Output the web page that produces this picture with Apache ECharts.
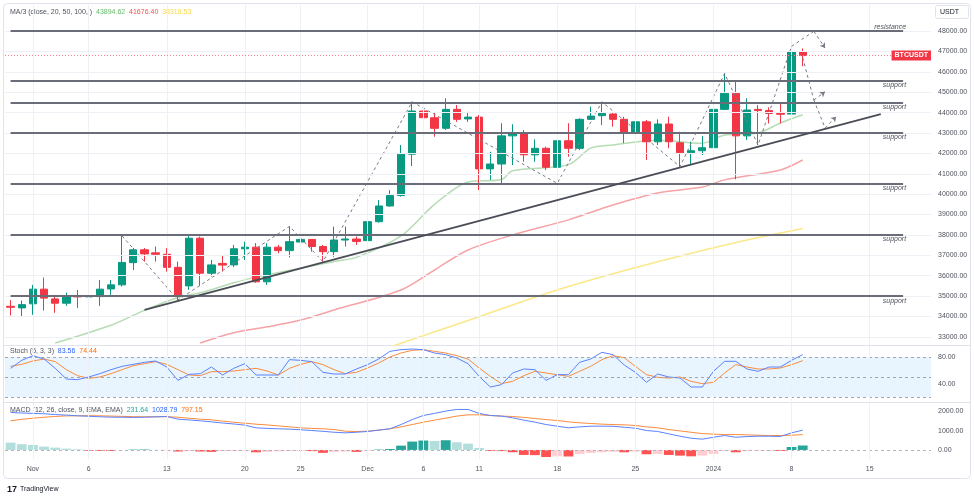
<!DOCTYPE html>
<html>
<head>
<meta charset="utf-8">
<script src="https://cdn.jsdelivr.net/npm/echarts@6/dist/echarts.min.js"></script>
<style>
  html, body { margin: 0; padding: 0; background: #fff; }
  #chart { width: 974px; height: 503px; }
</style>
</head>
<body>
<div id="chart"></div>
<script>
// days on the x axis: 2023-10-30 .. 2024-01-20 (daily candles + empty space on the right)
const firstDay = [2023, 9, 30]
const dayCount = 83
const categories = []
for (let i = 0; i < dayCount; i++) {
  const d = new Date(Date.UTC(firstDay[0], firstDay[1], firstDay[2] + i))
  categories.push(d.toISOString().slice(0, 10))
}

// x axis labels: [day index, text]
const xTicks = [
  [2, 'Nov'], [7, '6'], [14, '13'], [21, '20'], [26, '25'], [32, 'Dec'], [37, '6'],
  [42, '11'], [49, '18'], [56, '25'], [63, '2024'], [70, '8'], [77, '15']
]

// BTCUSDT daily candles [open, close, low, high]
const ohlc = [
  [34500, 34450, 34050, 34800], [34420, 34580, 33980, 34780], [34620, 35340, 34080, 35550],
  [35340, 34900, 34290, 35910], [34860, 34650, 34180, 35060], [34650, 34975, 34520, 35170],
  [35010, 34960, 34410, 35300], [34960, 35000, 34800, 35150], [34975, 35340, 34520, 35790],
  [35350, 35550, 35060, 35790], [35550, 36650, 35470, 37950], [36640, 37270, 36280, 37360],
  [37270, 37070, 36690, 37360], [37120, 37050, 36690, 37430], [37050, 36410, 36200, 37350],
  [36410, 34975, 34730, 36690], [35500, 37840, 35310, 37950], [37840, 36120, 35500, 37920],
  [36120, 36530, 35960, 36770], [36600, 36520, 36200, 37020], [36530, 37320, 36420, 37510],
  [37320, 37400, 36770, 37670], [37400, 35700, 35650, 37600], [35700, 37400, 35550, 37590],
  [37400, 37230, 37100, 37510], [37230, 37670, 36900, 38420], [37650, 37780, 37590, 37840],
  [37780, 37430, 37180, 37790], [37430, 37180, 36690, 37510], [37180, 37750, 36930, 38410],
  [37750, 37800, 37430, 38410], [37800, 37680, 37510, 37920], [37720, 38650, 37670, 38930],
  [38650, 39420, 38600, 39710], [39420, 39930, 39390, 40200], [39930, 41960, 39880, 42410],
  [41960, 44080, 41380, 44530], [44080, 43750, 43310, 44220], [43750, 43230, 42820, 43980],
  [43230, 44160, 43150, 44700], [44160, 43670, 43550, 44370], [43690, 43780, 43550, 44040],
  [43780, 41240, 40200, 43880], [41240, 41480, 40700, 42080], [41480, 42860, 40530, 43480],
  [42860, 43020, 41430, 43430], [43020, 41930, 41590, 43150], [41930, 42250, 41590, 42690],
  [42250, 41320, 41180, 42330], [41320, 42620, 40500, 42740], [42620, 42250, 41840, 43480],
  [42250, 43670, 42170, 43720], [43670, 43830, 43640, 44290], [43850, 43960, 43390, 44530],
  [43930, 43670, 43310, 44000], [43670, 42990, 42500, 43800], [42990, 43550, 42900, 43640],
  [43550, 42570, 41680, 43640], [42570, 43440, 42410, 43670], [43440, 42570, 42250, 43800],
  [42520, 42030, 41350, 43060], [42030, 42130, 41430, 42570], [42130, 42280, 41920, 42850],
  [42280, 44160, 42250, 44210], [44160, 44950, 44130, 45930], [44950, 42860, 40730, 45520],
  [42860, 44130, 42660, 44700], [44160, 44100, 42410, 44370], [44100, 43960, 43470, 44260],
  [43960, 43920, 43470, 44450], [43930, 46990, 43180, 47250], [46990, 46800, 46280, 47150]
]

// moving averages: [day index] / [value]
const ma20Idx = [4, 9, 12, 15, 17, 20, 22, 29, 31, 35, 38, 41, 44, 45, 50, 52, 54, 58, 62, 64, 67, 69, 71]
const ma20Val = [32700, 33570, 34300, 34930, 35160, 35650, 35930, 36700, 36900, 37950, 39500, 40600,
  40720, 41150, 41450, 42260, 42410, 42650, 42500, 42900, 43000, 43490, 43894.62]
const ma50Idx = [17, 20, 23, 26, 29, 35, 38, 41, 45, 50, 54, 58, 62, 64, 69, 71]
const ma50Val = [32700, 33200, 33490, 33830, 34320, 35300, 36280, 37260, 38000, 38740, 39470,
  40060, 40350, 40700, 41190, 41676.40]
const ma100Idx = [34, 41, 49, 58, 66, 71]
const ma100Val = [32500, 33800, 35300, 36680, 37750, 38318.53]

// drawings: zigzag swing points, projections, trend line, horizontal levels
const zzIdx = [10, 15, 25, 28, 36, 49, 53, 60, 64, 67, 70]
const zzVal = [37950, 34810, 38420, 36690, 44530, 40530, 44530, 41350, 45920, 42410, 47250]
const projA = [[70, 47250], [72, 47990], [73, 47170]]
const projB = [[71, 46700], [72, 44620], [73, 45020]]
const projC = [[72, 44620], [73, 43250], [74, 43800]]
const trendPts = [[12, 34320], [78, 43930]]
const levelPrices = [48000, 45550, 44500, 43020, 40500, 38000, 35000]
const levelNames = ['resistance', 'support', 'support', 'support', 'support', 'support', 'support']
const levelEndIdx = 80
const priceTicks = [33000, 34000, 35000, 36000, 37000, 38000, 39000, 40000, 41000, 42000,
  43000, 44000, 45000, 46000, 47000, 48000]

// Stoch (5, 3, 3)
const stochK = [63, 75, 82, 77, 63, 47, 46, 50, 55, 61, 66, 69, 72, 74, 65, 45, 54, 55, 65, 53,
  63, 70, 53, 53, 53, 76, 75, 73, 57, 54.5, 54.5, 62, 68.5, 77, 88.5, 91, 92, 91, 86, 83.5, 78.5,
  70, 51, 35, 38.5, 56, 62, 61, 45, 53.5, 53.5, 72, 77, 87, 83.5, 68, 57, 42, 54.5, 50, 48.5, 35,
  35, 58.5, 73.5, 73.5, 62, 58.5, 65, 65, 75, 83.56]
const stochD = [66, 69, 74, 77, 73, 61, 52, 48, 50, 55, 61, 67, 70, 73, 69, 61, 53, 52, 58, 58,
  59, 61, 63, 59, 53, 63, 69, 73, 68.5, 61, 55, 57, 63.5, 71, 80, 86, 90, 91, 88.5, 86, 82, 77,
  63.5, 51, 40, 43.5, 52, 58.5, 56, 53.5, 51, 58.5, 66, 76, 82, 79, 66, 53.5, 49.5, 48.5, 50,
  43.5, 40, 42, 56, 68.5, 65, 62, 62, 63.5, 68.5, 74.44]
const stochLevels = [80, 50, 20]

// MACD (12, 26, close, 9)
const macdLine = [1950, 1920, 1900, 1880, 1840, 1810, 1775, 1750, 1725, 1705, 1700, 1690, 1700,
  1720, 1740, 1600, 1560, 1515, 1460, 1400, 1350, 1290, 1150, 1120, 1100, 1080, 1050, 1010, 970,
  920, 890, 920, 960, 1030, 1100, 1320, 1580, 1790, 1900, 2020, 2105, 2105, 1900, 1790, 1760,
  1670, 1550, 1445, 1320, 1235, 1150, 1200, 1235, 1235, 1230, 1180, 1130, 1010, 960, 835, 715,
  610, 560, 660, 750, 660, 695, 715, 715, 700, 890, 1028.79]
const signalLine = [1515, 1590, 1650, 1700, 1740, 1770, 1775, 1780, 1775, 1760, 1745, 1730, 1725,
  1725, 1730, 1700, 1650, 1600, 1565, 1500, 1440, 1390, 1340, 1300, 1250, 1200, 1150, 1120, 1100,
  1060, 975, 960, 975, 1030, 1100, 1200, 1320, 1445, 1550, 1650, 1760, 1825, 1825, 1790, 1760,
  1740, 1690, 1635, 1580, 1530, 1460, 1410, 1375, 1340, 1320, 1305, 1270, 1200, 1150, 1060, 990,
  920, 850, 820, 800, 800, 785, 765, 750, 750, 765, 797.15]
const histogram = [380, 300, 260, 175, 120, 70, 35, -45, -50, -55, -10, 20, 25, 5, -10, -80, -60,
  -80, -100, -60, -50, -40, -120, -100, -70, -50, -40, -60, -150, -100, -80, -100, -40, 20, 50,
  225, 435, 490, 470, 505, 400, 330, 105, -50, -60, -120, -260, -270, -365, -330, -340, -210,
  -155, -120, -90, -120, -90, -225, -210, -260, -295, -330, -295, -210, -50, -120, -50, -35, -35,
  -50, 155, 231.64]

const FONT = 'Liberation Sans, Arial, sans-serif'
const TXT = '#50535e'
const GRIDC = '#eef0f5'

const pair = (idx, vals) => idx.map((d, k) => [categories[d], vals[k]])
const seg = (a, b, arrow) => [
  { coord: [categories[a[0]], a[1]] },
  { coord: [categories[b[0]], b[1]], symbol: arrow ? 'arrow' : 'none' }
]
const projSegs = p => [seg(p[0], p[1], false), seg(p[1], p[2], true)]
const vLines = xTicks.map(t => ({ xAxis: categories[t[0]] }))
const tickText = {}
xTicks.forEach(t => { tickText[categories[t[0]]] = t[1] })

const lastClose = ohlc[ohlc.length - 1][1]
const fmt2 = v => v.toFixed(2)
const isStep = (v, s) => Math.abs(v / s - Math.round(v / s)) < 1e-6

const chart = echarts.init(document.getElementById('chart'), null, { renderer: 'canvas' })

const xAxisBase = (gi, showLabel) => ({
  type: 'category',
  gridIndex: gi,
  data: categories,
  boundaryGap: true,
  axisLine: { show: false },
  axisTick: { show: false },
  splitLine: { show: false },
  axisLabel: {
    show: showLabel,
    interval: (index, value) => tickText[value] !== undefined,
    formatter: value => tickText[value] || '',
    color: TXT,
    fontSize: 7,
    fontFamily: FONT,
    margin: 7
  }
})

const yLabel = (step, keep) => ({
  color: TXT,
  fontSize: 7,
  fontFamily: FONT,
  margin: 7,
  formatter: v => (isStep(v, step) && keep(v) ? fmt2(v) : '')
})

const option = {
  animation: false,
  backgroundColor: '#ffffff',
  grid: [
    { left: 5, right: 43, top: 5, height: 340 },
    { left: 5, right: 43, top: 346, height: 55 },
    { left: 5, right: 43, top: 403, height: 56 }
  ],
  xAxis: [xAxisBase(0, false), xAxisBase(1, false), xAxisBase(2, true)],
  yAxis: [
    {
      type: 'value', gridIndex: 0, position: 'right', min: 32600, max: 49280, interval: 100,
      axisLine: { show: false }, axisTick: { show: false }, splitLine: { show: false },
      axisLabel: yLabel(1000, v => v >= 33000 && v <= 48000)
    },
    {
      type: 'value', gridIndex: 1, position: 'right', min: 14, max: 96.5, interval: 2,
      axisLine: { show: false }, axisTick: { show: false }, splitLine: { show: false },
      axisLabel: yLabel(40, v => v > 0)
    },
    {
      type: 'value', gridIndex: 2, position: 'right', min: -470, max: 2440, interval: 10,
      axisLine: { show: false }, axisTick: { show: false }, splitLine: { show: false },
      axisLabel: yLabel(1000, v => v >= 0)
    }
  ],
  series: [
    {
      name: 'MA100',
      type: 'line',
      xAxisIndex: 0, yAxisIndex: 0,
      data: pair(ma100Idx, ma100Val),
      smooth: 0.3,
      showSymbol: false,
      z: 1,
      lineStyle: { color: '#fbe889', width: 1.5 },
      markLine: {
        silent: true,
        symbol: ['none', 'none'],
        label: { show: false },
        lineStyle: { color: GRIDC, width: 1, type: 'solid' },
        data: priceTicks.map(p => ({ yAxis: p })).concat(vLines)
      }
    },
    {
      name: 'MA50',
      type: 'line',
      xAxisIndex: 0, yAxisIndex: 0,
      data: pair(ma50Idx, ma50Val),
      smooth: 0.3,
      showSymbol: false,
      z: 2,
      lineStyle: { color: '#f5a3a6', width: 1.5 }
    },
    {
      name: 'MA20',
      type: 'line',
      xAxisIndex: 0, yAxisIndex: 0,
      data: pair(ma20Idx, ma20Val),
      smooth: 0.3,
      showSymbol: false,
      z: 2,
      lineStyle: { color: '#b5dcb3', width: 1.5 },
      markLine: {
        silent: true,
        symbol: ['none', 'none'],
        lineStyle: { color: '#f7838c', width: 1, type: [1, 2] },
        label: {
          show: true,
          formatter: 'BTCUSDT',
          position: 'insideEnd',
          distance: 0,
          backgroundColor: '#f23645',
          color: '#ffffff',
          fontSize: 7,
          fontWeight: 'bold',
          fontFamily: FONT,
          padding: [2, 3, 1, 3]
        },
        data: [{ yAxis: lastClose }]
      }
    },
    {
      name: 'BTCUSDT',
      type: 'candlestick',
      xAxisIndex: 0, yAxisIndex: 0,
      data: ohlc,
      barWidth: '70%',
      z: 3,
      itemStyle: {
        color: '#089981', color0: '#f23645',
        borderColor: '#089981', borderColor0: '#f23645', borderWidth: 1
      },
      markLine: {
        silent: true,
        symbol: ['none', 'none'],
        data: levelPrices.map((p, k) => {
          const lab = {
            show: true,
            formatter: levelNames[k],
            position: k === 0 ? 'insideEndTop' : 'insideEndBottom',
            distance: [-3, 1],
            fontSize: 7,
            fontStyle: 'italic',
            fontFamily: FONT,
            color: TXT
          }
          const ls = { color: '#6a6d78', width: 2, type: 'solid' }
          return [
            { coord: [categories[0], p], lineStyle: ls, label: lab },
            { coord: [categories[levelEndIdx], p], lineStyle: ls, label: lab }
          ]
        }).concat([
          [
            { coord: [categories[trendPts[0][0]], trendPts[0][1]], lineStyle: { color: '#4a4d57', width: 1.8, type: 'solid' }, label: { show: false } },
            { coord: [categories[trendPts[1][0]], trendPts[1][1]], lineStyle: { color: '#4a4d57', width: 1.8, type: 'solid' }, label: { show: false } }
          ]
        ])
      }
    },
    {
      name: 'zigzag',
      type: 'line',
      xAxisIndex: 0, yAxisIndex: 0,
      data: pair(zzIdx, zzVal),
      showSymbol: false,
      z: 4,
      lineStyle: { color: '#787b86', width: 1, type: [3, 3] },
      markLine: {
        silent: true,
        symbol: ['none', 'none'],
        symbolSize: 5,
        label: { show: false },
        lineStyle: { color: '#787b86', width: 1, type: [3, 3] },
        data: projSegs(projA).concat(projSegs(projB), projSegs(projC))
      }
    },
    {
      name: '%K',
      type: 'line',
      xAxisIndex: 1, yAxisIndex: 1,
      data: stochK,
      showSymbol: false,
      z: 3,
      lineStyle: { color: '#5b82ff', width: 1 },
      markArea: {
        silent: true,
        itemStyle: { color: 'rgba(33,150,243,0.1)' },
        data: [[{ yAxis: stochLevels[2] }, { yAxis: stochLevels[0] }]]
      },
      markLine: {
        silent: true,
        symbol: ['none', 'none'],
        label: { show: false },
        lineStyle: { color: '#a3a6af', width: 1, type: [3, 3] },
        data: stochLevels.map(v => ({ yAxis: v }))
      }
    },
    {
      name: '%D',
      type: 'line',
      xAxisIndex: 1, yAxisIndex: 1,
      data: stochD,
      showSymbol: false,
      z: 2,
      lineStyle: { color: '#fb8c3c', width: 1 },
      markLine: {
        silent: true,
        symbol: ['none', 'none'],
        label: { show: false },
        lineStyle: { color: GRIDC, width: 1, type: 'solid' },
        data: vLines
      }
    },
    {
      name: 'Histogram',
      type: 'bar',
      xAxisIndex: 2, yAxisIndex: 2,
      data: histogram,
      barWidth: '88%',
      itemStyle: {
        color: p => {
          const v = histogram[p.dataIndex]
          const prev = p.dataIndex > 0 ? histogram[p.dataIndex - 1] : v
          if (v >= 0) return v > prev ? '#26a69a' : '#b2dfdb'
          return v < prev ? '#ff5252' : '#ffcdd2'
        }
      },
      markLine: {
        silent: true,
        symbol: ['none', 'none'],
        label: { show: false },
        lineStyle: { color: '#b2b5be', width: 1, type: [3, 3] },
        data: [{ yAxis: 0 }]
      }
    },
    {
      name: 'MACD',
      type: 'line',
      xAxisIndex: 2, yAxisIndex: 2,
      data: macdLine,
      showSymbol: false,
      z: 3,
      lineStyle: { color: '#5b82ff', width: 1 }
    },
    {
      name: 'Signal',
      type: 'line',
      xAxisIndex: 2, yAxisIndex: 2,
      data: signalLine,
      showSymbol: false,
      z: 2,
      lineStyle: { color: '#fb8c3c', width: 1 },
      markLine: {
        silent: true,
        symbol: ['none', 'none'],
        label: { show: false },
        lineStyle: { color: GRIDC, width: 1, type: 'solid' },
        data: vLines
      }
    }
  ],
  graphic: [
    { type: 'rect', silent: true, shape: { x: 3.5, y: 3.5, width: 967, height: 475, r: 4 },
      style: { fill: 'none', stroke: '#e0e3eb', lineWidth: 1 } },
    { type: 'line', silent: true, shape: { x1: 3, y1: 345.5, x2: 971, y2: 345.5 },
      style: { stroke: '#e0e3eb', lineWidth: 1 } },
    { type: 'line', silent: true, shape: { x1: 3, y1: 402.5, x2: 971, y2: 402.5 },
      style: { stroke: '#e0e3eb', lineWidth: 1 } },
    {
      type: 'text', x: 10, y: 9, silent: true,
      style: {
        text: '{a|MA/3 (close, 20, 50, 100, )}  {g|' + fmt2(ma20Val[ma20Val.length - 1]) +
          '}  {r|' + fmt2(ma50Val[ma50Val.length - 1]) + '}  {y|' + fmt2(ma100Val[ma100Val.length - 1]) + '}',
        font: '7px ' + FONT,
        rich: {
          a: { fill: TXT, fontSize: 7, fontFamily: FONT },
          g: { fill: '#66bb6a', fontSize: 7, fontFamily: FONT },
          r: { fill: '#ef5350', fontSize: 7, fontFamily: FONT },
          y: { fill: '#f9d849', fontSize: 7, fontFamily: FONT }
        }
      }
    },
    {
      type: 'text', x: 10, y: 348, silent: true,
      style: {
        text: '{a|Stoch (5, 3, 3)}  {b|' + fmt2(stochK[stochK.length - 1]) + '}  {o|' + fmt2(stochD[stochD.length - 1]) + '}',
        font: '7px ' + FONT,
        rich: {
          a: { fill: TXT, fontSize: 7, fontFamily: FONT },
          b: { fill: '#2962ff', fontSize: 7, fontFamily: FONT },
          o: { fill: '#ff6d00', fontSize: 7, fontFamily: FONT }
        }
      }
    },
    {
      type: 'text', x: 10, y: 407, silent: true,
      style: {
        text: '{a|MACD (12, 26, close, 9, EMA, EMA)}  {t|' + fmt2(histogram[histogram.length - 1]) +
          '}  {b|' + fmt2(macdLine[macdLine.length - 1]) + '}  {o|' + fmt2(signalLine[signalLine.length - 1]) + '}',
        font: '7px ' + FONT,
        rich: {
          a: { fill: TXT, fontSize: 7, fontFamily: FONT },
          t: { fill: '#26a69a', fontSize: 7, fontFamily: FONT },
          b: { fill: '#2962ff', fontSize: 7, fontFamily: FONT },
          o: { fill: '#ff6d00', fontSize: 7, fontFamily: FONT }
        }
      }
    },
    { type: 'rect', silent: true, shape: { x: 935.5, y: 5.5, width: 33, height: 13, r: 2 },
      style: { fill: '#ffffff', stroke: '#e0e3eb', lineWidth: 1 } },
    { type: 'text', silent: true, x: 940, y: 8.5,
      style: { text: 'USDT', font: '7px ' + FONT, fill: '#131722' } },
    { type: 'text', silent: true, x: 7, y: 485,
      style: { text: '17', font: 'bold 9px ' + FONT, fill: '#131722' } },
    { type: 'text', silent: true, x: 20, y: 486,
      style: { text: 'TradingView', font: '7px ' + FONT, fill: '#131722' } }
  ]
}

chart.setOption(option)
</script>
</body>
</html>
